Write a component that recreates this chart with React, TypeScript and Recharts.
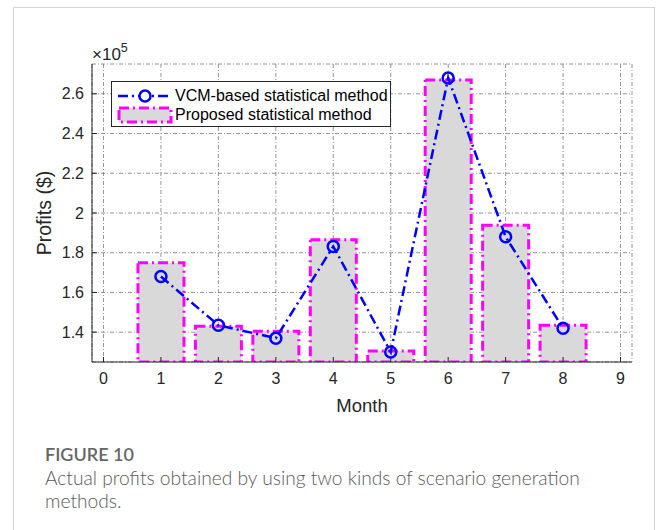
import React from "react";
import {
  ComposedChart,
  Bar,
  Line,
  XAxis,
  YAxis,
  CartesianGrid,
  Label,
} from "recharts";

// Month indices
const months = [1, 2, 3, 4, 5, 6, 7, 8];
// Proposed statistical method (bars), $
const proposed = [175000, 143000, 140500, 186500, 130500, 267000, 193800, 143500];
// VCM-based statistical method (line), $
const vcm = [168000, 143500, 137000, 183200, 130000, 268000, 188000, 142000];

const xTicks = [0, 1, 2, 3, 4, 5, 6, 7, 8, 9];
const yTicks = [140000, 160000, 180000, 200000, 220000, 240000, 260000];
const xDomain = [-0.2, 9.2];
const yDomain = [125000, 275000];

const data = months.map((m, i) => ({ month: m, proposed: proposed[i], vcm: vcm[i] }));

const AX = "#262626";
const FONT = "'Liberation Sans', Arial, sans-serif";
const DASH = "10 4 2 4";

const fmtY = (v: number) => String(parseFloat((v / 1e5).toFixed(1)));

export default function App() {
  return (
    <div
      style={{
        position: "absolute",
        left: 0,
        top: 0,
        width: 656,
        height: 530,
        overflow: "hidden",
        background: "#fff",
      }}
    >
      {/* card border */}
      <div
        style={{
          position: "absolute",
          left: 13,
          top: 7,
          width: 642,
          height: 540,
          border: "1px solid #d4d4d4",
          boxSizing: "border-box",
        }}
      />
      <div style={{ position: "absolute", left: 0, top: 0 }}>
        <ComposedChart
          width={656}
          height={430}
          data={data}
          margin={{ top: 64, right: 24, left: 0, bottom: 38 }}
          style={{ fontFamily: FONT }}
        >
          <CartesianGrid
            stroke="#7a7a7a"
            strokeWidth={0.8}
            strokeDasharray="4 2 1 2"
            fill="#fff"
          />
          <XAxis
            dataKey="month"
            type="number"
            domain={xDomain}
            ticks={xTicks}
            allowDataOverflow
            height={30}
            tickSize={-5}
            tickMargin={16}
            stroke={AX}
            tick={{ fill: AX, fontSize: 16, fontFamily: FONT }}
          >
            <Label
              value="Month"
              position="bottom"
              offset={7}
              style={{ fill: AX, fontSize: 18.5, fontFamily: FONT }}
            />
          </XAxis>
          <XAxis
            xAxisId="top"
            orientation="top"
            type="number"
            domain={xDomain}
            ticks={xTicks}
            allowDataOverflow
            height={0}
            tickSize={-5}
            tick={false}
            stroke={AX}
          />
          <YAxis
            type="number"
            domain={yDomain}
            ticks={yTicks}
            allowDataOverflow
            width={92}
            tickSize={-5}
            tickMargin={13}
            tickFormatter={fmtY}
            stroke={AX}
            tick={{ fill: AX, fontSize: 16, fontFamily: FONT }}
          >
            <Label
              value="Profits ($)"
              angle={-90}
              position="center"
              dx={-2}
              style={{ fill: AX, fontSize: 19.5, fontFamily: FONT, textAnchor: "middle" }}
            />
          </YAxis>
          <YAxis
            yAxisId="right"
            orientation="right"
            type="number"
            domain={yDomain}
            ticks={yTicks}
            allowDataOverflow
            width={0}
            tickSize={-5}
            tick={false}
            stroke={AX}
          />
          <Bar
            dataKey="proposed"
            fill="#d9d9d9"
            stroke="#ff00ff"
            strokeWidth={3}
            strokeDasharray={DASH}
            isAnimationActive={false}
          />
          <Line
            dataKey="vcm"
            type="linear"
            stroke="#0000ff"
            strokeWidth={2.5}
            strokeDasharray={DASH}
            dot={{ r: 5.5, stroke: "#0000ff", strokeWidth: 2.5, fill: "none", strokeDasharray: "" }}
            isAnimationActive={false}
          />
        </ComposedChart>
      </div>

      {/* x10^5 exponent */}
      <svg style={{ position: "absolute", left: 0, top: 0 }} width={200} height={64}>
        <text x={92} y={60} fontFamily={FONT} fontSize={17} fill={AX}>
          ×10
          <tspan fontSize={12.5} dy={-8}>5</tspan>
        </text>
      </svg>

      {/* legend */}
      <div
        style={{
          position: "absolute",
          left: 111,
          top: 81,
          width: 280,
          height: 46,
          border: `1px solid ${AX}`,
          background: "#fff",
          boxSizing: "border-box",
          fontFamily: FONT,
          fontSize: 16,
          color: "#000",
        }}
      >
        <div style={{ position: "absolute", left: 5, top: 4, height: 20, display: "flex", alignItems: "center" }}>
          <svg width={56} height={20}>
            <line x1={1} y1={10} x2={55} y2={10} stroke="#0000ff" strokeWidth={2.5} strokeDasharray={DASH} />
            <circle cx={28} cy={10} r={5.5} stroke="#0000ff" strokeWidth={2.5} fill="#fff" />
          </svg>
          <span style={{ marginLeft: 2, whiteSpace: "nowrap" }}>VCM-based statistical method</span>
        </div>
        <div style={{ position: "absolute", left: 5, top: 24, height: 18, display: "flex", alignItems: "center" }}>
          <svg width={56} height={18}>
            <rect x={2} y={2} width={52} height={14} fill="#d9d9d9" stroke="#ff00ff" strokeWidth={3} strokeDasharray={DASH} />
          </svg>
          <span style={{ marginLeft: 2, whiteSpace: "nowrap" }}>Proposed statistical method</span>
        </div>
      </div>

      {/* caption */}
      <div
        style={{
          position: "absolute",
          left: 45,
          top: 443,
          fontFamily: "Lato, 'Open Sans', sans-serif",
          fontSize: 18,
          fontWeight: 600,
          color: "#666",
          whiteSpace: "nowrap",
        }}
      >
        FIGURE 10
      </div>
      <div
        style={{
          position: "absolute",
          left: 45,
          top: 466,
          width: 560,
          fontFamily: "Lato, 'Open Sans', sans-serif",
          fontSize: 19.2,
          fontWeight: 300,
          lineHeight: "23px",
          color: "#5a5a5a",
        }}
      >
        Actual profits obtained by using two kinds of scenario generation methods.
      </div>
    </div>
  );
}
